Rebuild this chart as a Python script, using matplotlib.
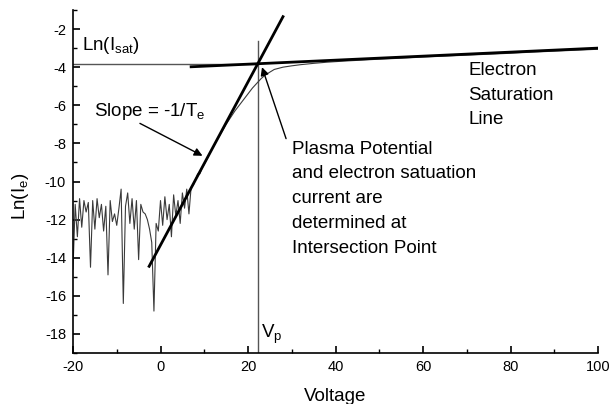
import matplotlib
matplotlib.use("Agg")
import matplotlib.pyplot as plt
from matplotlib.ticker import MultipleLocator

plt.rcParams["font.family"] = ["Liberation Sans", "DejaVu Sans"]
plt.rcParams["mathtext.fontset"] = "custom"
plt.rcParams["mathtext.rm"] = "Liberation Sans"
plt.rcParams["mathtext.default"] = "regular"
plt.rcParams["axes.unicode_minus"] = False

# Langmuir probe trace: log of electron current vs. probe voltage
voltage = [
    -20.0, -19.5, -19.0, -18.5, -18.0, -17.5, -17.0, -16.5, -16.0, -15.5,
    -15.0, -14.5, -14.0, -13.5, -13.0, -12.5, -12.0, -11.5, -11.0, -10.5,
    -10.0, -9.5, -9.0, -8.5, -8.0, -7.5, -7.0, -6.5, -6.0, -5.5,
    -5.0, -4.5, -4.0, -3.5, -3.0, -2.5, -2.0, -1.5, -1.0, -0.5,
    0.0, 0.5, 1.0, 1.5, 2.0, 2.5, 3.0, 3.5, 4.0, 4.5,
    5.0, 5.5, 6.0, 6.5, 7.0, 7.5, 8.0, 8.5, 9.0, 9.5,
    10.0, 11.0, 12.0, 13.0, 14.0, 15.0, 16.0, 17.0, 18.0, 19.0,
    20.0, 21.0, 22.0, 23.0, 24.0, 26.0, 28.0, 30.0, 32.0, 35.0,
    38.0, 42.0, 46.0, 50.0, 55.0, 60.0, 65.0, 70.0, 75.0, 80.0,
    85.0, 90.0, 95.0, 100.0,
]
ln_ie = [
    -14.6, -11.2, -12.9, -10.9, -12.4, -11.0, -11.6, -11.1, -14.5, -11.0,
    -12.5, -10.9, -11.9, -11.2, -12.6, -11.3, -14.9, -11.0, -12.1, -11.7,
    -12.3, -11.4, -10.4, -16.4, -11.3, -10.6, -12.2, -10.9, -12.5, -11.0,
    -14.1, -11.2, -11.6, -11.7, -12.0, -12.5, -13.2, -16.8, -12.2, -12.6,
    -11.0, -12.3, -10.8, -12.0, -11.2, -12.9, -10.7, -11.8, -11.0, -12.2,
    -10.6, -11.4, -10.4, -11.7, -10.3, -10.2, -9.9, -9.6, -9.6, -9.3,
    -9.1, -8.65, -8.2, -7.8, -7.4, -7.0, -6.65, -6.3, -6.0, -5.7,
    -5.4, -5.1, -4.85, -4.6, -4.4, -4.12, -4.0, -3.93, -3.87, -3.8,
    -3.74, -3.68, -3.63, -3.58, -3.53, -3.47, -3.42, -3.37, -3.32, -3.27,
    -3.21, -3.16, -3.11, -3.06,
]

# Fitted lines: exponential (transition) region and electron saturation region
slope_fit_v = [-2.6, 28.0]
slope_fit_ln = [-14.45, -1.35]
sat_fit_v = [7.0, 100.0]
sat_fit_ln = [-3.98, -3.0]

v_plasma = 22.3
ln_isat = -3.85

fig = plt.figure(figsize=(6.10, 4.04), dpi=100)
ax = fig.add_axes([73 / 610, 1 - 353 / 404, 525 / 610, 343 / 404])

ax.plot(voltage, ln_ie, color="#3a3a3a", lw=0.8, zorder=2)
ax.plot(slope_fit_v, slope_fit_ln, color="black", lw=2.0, zorder=3)
ax.plot(sat_fit_v, sat_fit_ln, color="black", lw=2.0, zorder=3)
ax.plot([v_plasma, v_plasma], [-2.65, -19], color="#555555", lw=1.0, zorder=1)
ax.plot([-20, v_plasma], [ln_isat, ln_isat], color="#555555", lw=1.0, zorder=1)

ax.set_xlim(-20, 100)
ax.set_ylim(-19, -1)
ax.xaxis.set_major_locator(MultipleLocator(20))
ax.xaxis.set_minor_locator(MultipleLocator(10))
ax.yaxis.set_major_locator(MultipleLocator(2))
ax.yaxis.set_minor_locator(MultipleLocator(1))
ax.set_yticks(range(-18, -1, 2))
ax.tick_params(which="major", direction="in", length=5, width=1.2,
               labelsize=10.5, pad=5)
ax.tick_params(which="minor", direction="in", length=3, width=1.0)
for side in ("top", "right"):
    ax.spines[side].set_visible(False)
for side in ("left", "bottom"):
    ax.spines[side].set_linewidth(1.2)

ax.set_xlabel("Voltage", fontsize=13.5, labelpad=10)
ax.set_ylabel("Ln(I$_e$)", fontsize=13.5)
ax.yaxis.set_label_coords(-0.08, 0.458)

ax.text(-18.0, -2.85, "Ln(I$_{sat}$)", fontsize=13.5, va="center", ha="left")
ax.text(-15.3, -6.35, "Slope = -1/T$_e$", fontsize=13.5, va="center", ha="left")
ax.text(23.0, -18.0, "V$_p$", fontsize=13.5, va="center", ha="left")
ax.text(70.3, -3.72, "Electron\nSaturation\nLine", fontsize=13.5, va="top",
        ha="left", linespacing=1.6)
ax.text(30.1, -7.85, "Plasma Potential\nand electron satuation\ncurrent are\n"
        "determined at\nIntersection Point", fontsize=13.5, va="top", ha="left",
        linespacing=1.6)

ax.annotate("", xy=(9.6, -8.65), xytext=(-4.7, -6.95),
            arrowprops=dict(arrowstyle="-|>", color="black", lw=1.0,
                            mutation_scale=12, shrinkA=0, shrinkB=0))
ax.annotate("", xy=(23.2, -4.0), xytext=(28.7, -7.75),
            arrowprops=dict(arrowstyle="-|>", color="black", lw=1.0,
                            mutation_scale=12, shrinkA=0, shrinkB=0))

fig.savefig("out.png", dpi=100)
